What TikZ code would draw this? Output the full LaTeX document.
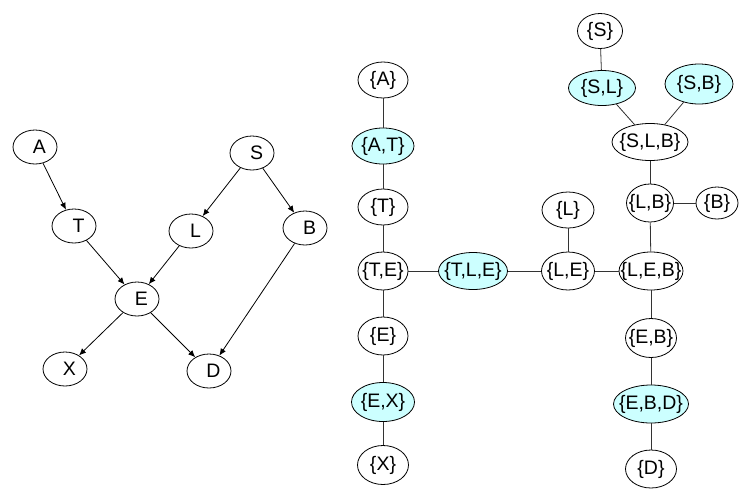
\documentclass[tikz,border=0pt]{standalone}
\usepackage{fontspec}
\setmainfont{Liberation Sans}
\usetikzlibrary{shapes.geometric,arrows.meta}
\definecolor{cl}{HTML}{CCFFFF}
\tikzset{
  bn/.style={ellipse, draw=black, line width=0.8pt, inner sep=0pt, minimum width=44pt, minimum height=34pt,
    font=\fontsize{19.5}{21}\selectfont, execute at begin node={\hspace*{9pt}}},
  jt/.style={ellipse, draw=black, line width=0.8pt, inner sep=0pt, minimum height=#1, fill=white,
    font=\fontsize{19.5}{21}\selectfont,
    execute at begin node={\hbox to 0pt\bgroup\hss}, execute at end node={\hss\egroup}},
  jt/.default=36pt,
  sep/.style={fill=cl},
  arr/.style={-{Latex[length=7pt,width=6pt]}, line width=0.8pt, black},
  lk/.style={line width=0.8pt, draw=black!80},
}
\begin{document}
\begin{tikzpicture}[x=1pt,y=-1pt]
\useasboundingbox (0,0) rectangle (746,488);
% Bayesian network
\node[bn] (A) at (35,147) {A};
\node[bn] (S) at (252,153) {S};
\node[bn] (T) at (74,226) {T};
\node[bn] (L) at (191,231) {L};
\node[bn] (B) at (305,228) {B};
\node[bn] (E) at (137,299) {E};
\node[bn] (X) at (65,369) {X};
\node[bn] (D) at (209,371) {D};
\draw[arr] (A) -- (T);
\draw[arr] (S) -- (L);
\draw[arr] (S) -- (B);
\draw[arr] (T) -- (E);
\draw[arr] (L) -- (E);
\draw[arr] (B) -- (D);
\draw[arr] (E) -- (X);
\draw[arr] (E) -- (D);
% Junction tree
\node[jt, minimum width=50pt] (nA) at (383,80) {\{A\}};
\node[jt, sep, minimum width=62pt] (nAT) at (383,146) {\{A,T\}};
\node[jt, minimum width=50pt] (nT) at (383,207) {\{T\}};
\node[jt=38pt, minimum width=50pt] (nTE) at (383,271) {\{T,E\}};
\node[jt=38pt, minimum width=50pt] (nE) at (383,336) {\{E\}};
\node[jt=39pt, sep, minimum width=63pt] (nEX) at (383,402) {\{E,X\}};
\node[jt=39pt, minimum width=51pt] (nX) at (383,465) {\{X\}};
\node[jt=37pt, sep, minimum width=69pt] (nTLE) at (473,271) {\{T,L,E\}};
\node[jt, minimum width=52pt] (nL) at (568,210) {\{L\}};
\node[jt=38pt, minimum width=53pt] (nLE) at (568,271) {\{L,E\}};
\node[jt=38pt, minimum width=64pt] (nLEB) at (651,271) {\{L,E,B\}};
\node[jt=35pt, minimum width=45pt] (nS) at (600,31) {\{S\}};
\node[jt=35pt, sep, minimum width=67pt] (nSL) at (602,88) {\{S,L\}};
\node[jt=40pt, sep, minimum width=68pt] (nSB) at (699,84) {\{S,B\}};
\node[jt=37pt, minimum width=76pt] (nSLB) at (650,142) {\{S,L,B\}};
\node[jt=38pt, minimum width=47pt] (nLB) at (650,203) {\{L,B\}};
\node[jt=32pt, minimum width=42pt] (nB) at (717,203) {\{B\}};
\node[jt=39pt, minimum width=51pt] (nEB) at (651,338) {\{E,B\}};
\node[jt=38pt, sep, minimum width=75pt] (nEBD) at (651,404) {\{E,B,D\}};
\node[jt=38pt, minimum width=51pt] (nD) at (651,469) {\{D\}};
\draw[lk] (nA) -- (nAT);
\draw[lk] (nAT) -- (nT);
\draw[lk] (nT) -- (nTE);
\draw[lk] (nTE) -- (nE);
\draw[lk] (nE) -- (nEX);
\draw[lk] (nEX) -- (nX);
\draw[lk] (nTE) -- (nTLE);
\draw[lk] (nTLE) -- (nLE);
\draw[lk] (nL) -- (nLE);
\draw[lk] (nLE) -- (nLEB);
\draw[lk] (nS) -- (nSL);
\draw[lk] (nSL) -- (nSLB);
\draw[lk] (nSB) -- (nSLB);
\draw[lk] (nSLB) -- (nLB);
\draw[lk] (nLB) -- (nB);
\draw[lk] (nLB) -- (nLEB);
\draw[lk] (nLEB) -- (nEB);
\draw[lk] (nEB) -- (nEBD);
\draw[lk] (nEBD) -- (nD);
\end{tikzpicture}
\end{document}
